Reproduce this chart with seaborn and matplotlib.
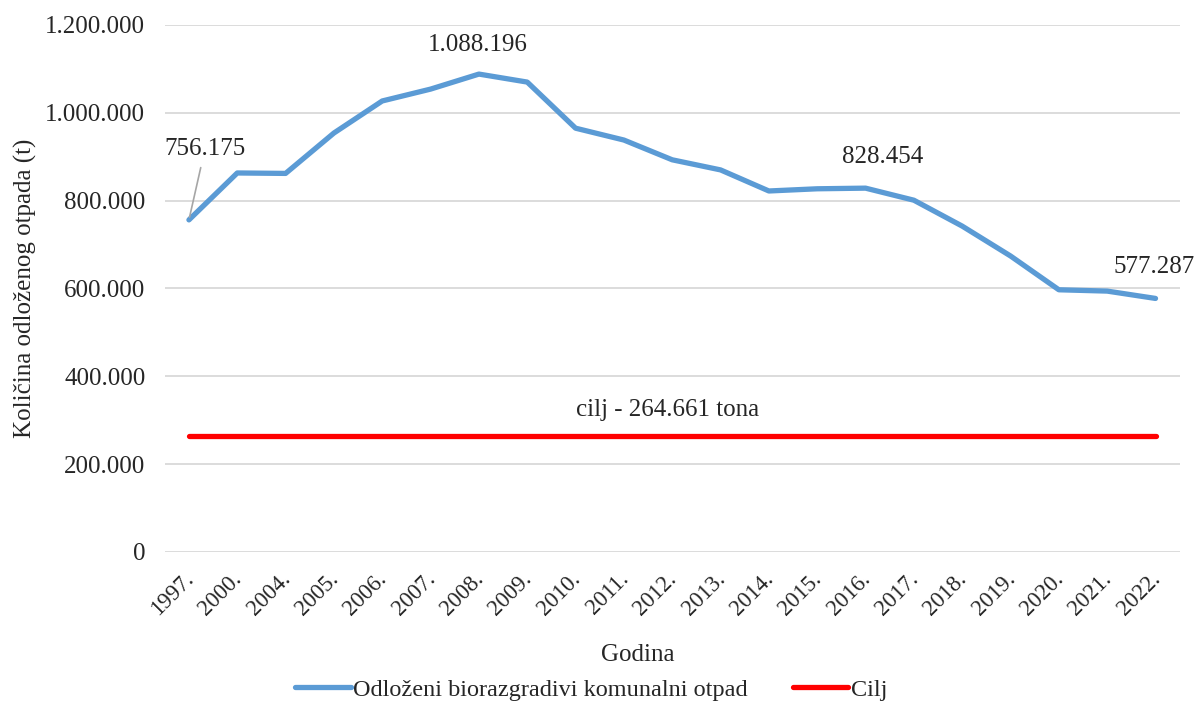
import matplotlib
matplotlib.use("Agg")
import matplotlib.pyplot as plt
import matplotlib.transforms as mtransforms
import seaborn as sns
import pandas as pd

years = ["1997.", "2000.", "2004.", "2005.", "2006.", "2007.", "2008.", "2009.", "2010.", "2011.",
         "2012.", "2013.", "2014.", "2015.", "2016.", "2017.", "2018.", "2019.", "2020.", "2021.", "2022."]
waste = [756175, 863000, 862000, 954000, 1027000, 1054000, 1088196, 1070000, 965000, 938000,
         893000, 870000, 822000, 827000, 828454, 801000, 742000, 674000, 597000, 594000, 577287]
target = [264661] * len(years)
series_names = ["Odloženi biorazgradivi komunalni otpad", "Cilj"]
yticks = [0, 200000, 400000, 600000, 800000, 1000000, 1200000]
ytick_labels = ["0", "200.000", "400.000", "600.000", "800.000", "1.000.000", "1.200.000"]

sns.set_theme(style="white")
plt.rcParams["font.family"] = ["Liberation Serif", "DejaVu Serif"]

df = pd.DataFrame({
    "x": list(range(len(years))) * 2,
    "value": waste + target,
    "series": [series_names[0]] * len(years) + [series_names[1]] * len(years),
})

fig = plt.figure(figsize=(11.94, 7.04), dpi=100)
ax = fig.add_axes([0.138, 0.216, 0.850, 0.7485])

sns.lineplot(data=df, x="x", y="value", hue="series",
             palette={series_names[0]: "#5B9BD5", series_names[1]: "#FF0000"},
             linewidth=3.8, ax=ax, legend=True, solid_capstyle="round")

FS = 18
ax.set_xlim(-0.5, len(years) - 0.5)
ax.set_ylim(0, 1200000)
ax.set_yticks(yticks)
ax.set_yticklabels(ytick_labels, fontsize=FS)
ax.set_xticks(range(len(years)))
ax.set_xticklabels(years, rotation=45, ha="right", rotation_mode="anchor", fontsize=16.5)
ax.tick_params(axis="x", pad=12, length=0)
ax.tick_params(axis="y", length=0, pad=14)
offset = mtransforms.ScaledTranslation(-6 / 100, 0, fig.dpi_scale_trans)
for lbl in ax.get_xticklabels():
    lbl.set_transform(lbl.get_transform() + offset)
ax.grid(axis="y", color="#D9D9D9", linewidth=1.3)
ax.set_axisbelow(True)
for s in ax.spines.values():
    s.set_visible(False)

ax.set_xlabel("Godina", fontsize=FS)
ax.xaxis.set_label_coords(0.466, -0.195)
ax.xaxis.label.set_va("center")
ax.set_ylabel("Količina odloženog otpada (t)", fontsize=FS)
ax.yaxis.set_label_coords(-0.137, 0.5)
ax.yaxis.label.set_va("center")

def fmt(v):
    return f"{v:,}".replace(",", ".")

# data labels
ax.annotate(fmt(waste[0]), xy=(0, waste[0]), xytext=(0.33, 917000), fontsize=FS,
            ha="center", va="center",
            arrowprops=dict(arrowstyle="-", color="#A6A6A6", lw=1.2, shrinkA=3, shrinkB=2))
ax.text(5.98, 1154000, fmt(waste[6]), fontsize=FS, ha="center", va="center")
ax.text(14.35, 899000, fmt(waste[14]), fontsize=FS, ha="center", va="center")
ax.text(19.98, 648000, fmt(waste[20]), fontsize=FS, ha="center", va="center")
ax.text(9.9, 323000, "cilj - " + fmt(target[0]) + " tona", fontsize=FS, ha="center", va="center")

handles, labels = ax.get_legend_handles_labels()
ax.legend(handles, labels, loc="center", bbox_to_anchor=(0.42, -0.262),
          ncol=2, frameon=False, fontsize=17.5, handlelength=2.3, handletextpad=0.1,
          columnspacing=1.85)

fig.savefig("out.png", dpi=100)
